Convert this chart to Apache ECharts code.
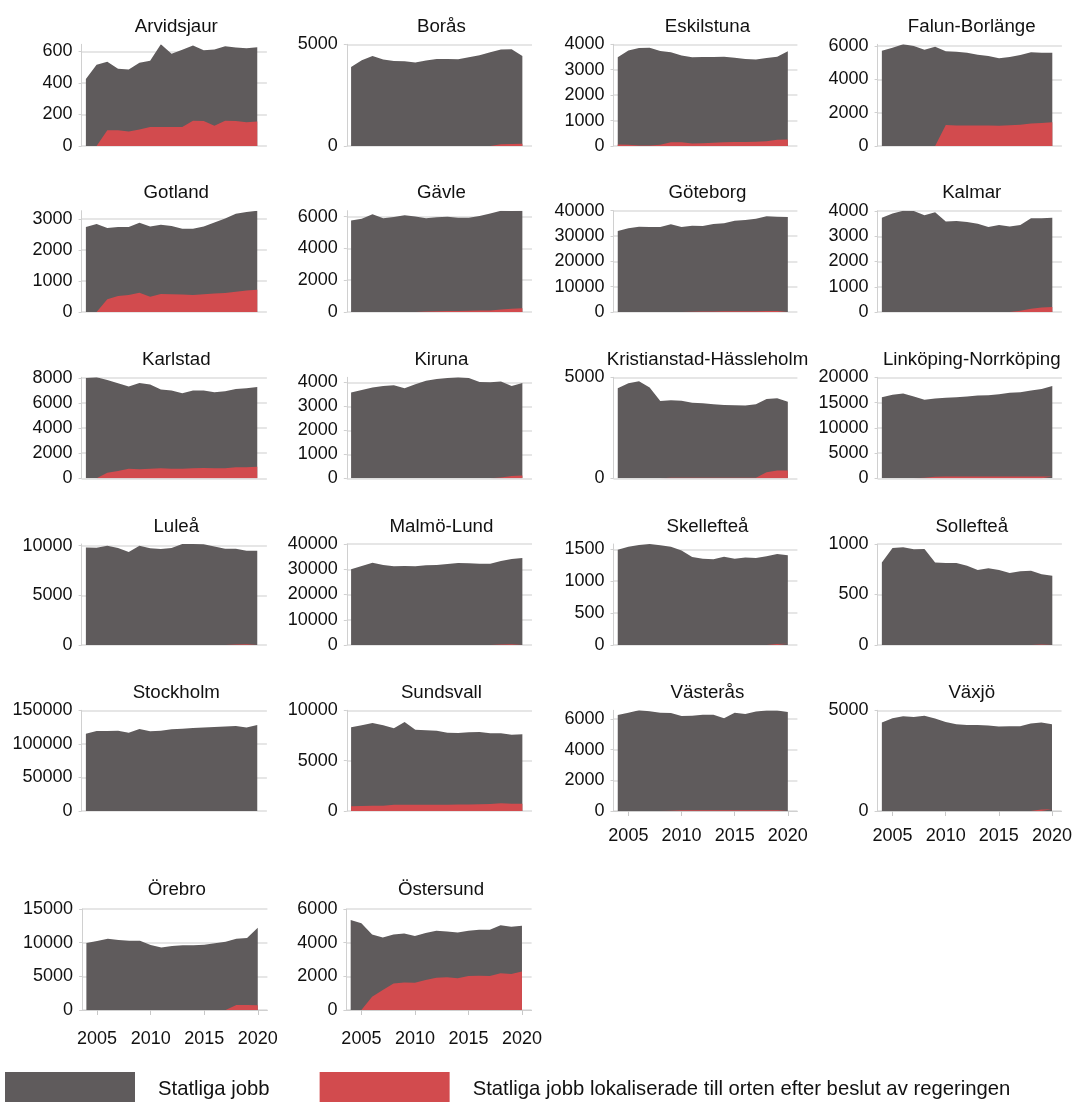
<!DOCTYPE html>
<html><head><meta charset="utf-8">
<script src="https://cdn.jsdelivr.net/npm/echarts@6/dist/echarts.min.js"></script>
<style>html,body{margin:0;padding:0;background:#fff}#c{width:1075px;height:1102px}</style>
</head><body><div id="c"></div>
<script>
const years = [2004,2005,2006,2007,2008,2009,2010,2011,2012,2013,2014,2015,2016,2017,2018,2019,2020];
const xTickLabels = [2005, 2010, 2015, 2020];
const regionNames = ['Arvidsjaur','Borås','Eskilstuna','Falun-Borlänge','Gotland','Gävle','Göteborg','Kalmar',
  'Karlstad','Kiruna','Kristianstad-Hässleholm','Linköping-Norrköping','Luleå','Malmö-Lund','Skellefteå','Sollefteå',
  'Stockholm','Sundsvall','Västerås','Växjö','Örebro','Östersund'];
const seriesNames = ['Statliga jobb', 'Statliga jobb lokaliserade till orten efter beslut av regeringen'];

const arvidsjaurTotal = [425,515,535,490,485,528,540,645,585,610,637,608,612,632,625,620,627];
const arvidsjaurLocal = [0,0,100,100,92,105,120,120,120,120,160,158,128,160,158,150,155];
const borasTotal = [3890,4220,4430,4250,4180,4170,4100,4200,4280,4280,4265,4360,4460,4610,4740,4755,4430];
const borasLocal = [0,0,0,0,0,0,0,0,0,0,0,0,0,0,80,100,110];
const eskilstunaTotal = [3490,3760,3850,3860,3740,3690,3560,3490,3500,3505,3510,3470,3420,3400,3460,3510,3730];
const eskilstunaLocal = [60,50,20,20,50,150,150,100,110,130,150,160,160,170,190,250,260];
const falunTotal = [5720,5900,6100,6000,5780,5960,5680,5660,5600,5480,5400,5260,5340,5460,5620,5600,5600];
const falunLocal = [0,0,0,0,0,0,1260,1230,1230,1230,1230,1220,1250,1270,1350,1380,1430];
const gotlandTotal = [2740,2840,2710,2740,2740,2880,2760,2815,2780,2685,2685,2760,2890,3020,3170,3230,3270];
const gotlandLocal = [0,0,410,520,550,620,490,585,575,565,550,575,595,615,650,690,715];
const gavleTotal = [5770,5870,6150,5900,5980,6100,6020,5900,5960,6000,5940,5940,6040,6210,6380,6360,6370];
const gavleLocal = [0,0,0,0,0,0,0,30,50,60,70,80,90,100,150,200,230];
const goteborgTotal = [31980,33030,33690,33560,33560,34610,33560,34080,33950,34740,35000,36060,36320,36850,37770,37640,37500];
const goteborgLocal = [0,0,0,0,0,0,0,100,150,200,250,300,300,300,350,400,400];
const kalmarTotal = [3735,3907,4013,4000,3828,3947,3590,3604,3564,3500,3366,3445,3392,3445,3710,3710,3735];
const kalmarLocal = [0,0,0,0,0,0,0,0,0,0,0,0,0,50,130,180,200];
const karlstadTotal = [8000,8050,7840,7575,7310,7600,7470,7070,6990,6775,6990,6990,6855,6935,7120,7175,7280];
const karlstadLocal = [0,0,450,590,770,720,770,800,770,770,800,830,800,800,880,880,930];
const kirunaTotal = [3580,3680,3790,3850,3875,3750,3920,4070,4140,4180,4210,4180,4015,4000,4030,3850,3970];
const kirunaLocal = [0,0,0,0,0,0,0,0,0,0,0,0,0,0,30,100,120];
const kristianstadTotal = [4455,4700,4800,4490,3830,3860,3845,3745,3710,3660,3630,3615,3600,3660,3930,3960,3795];
const kristianstadLocal = [0,0,0,0,0,30,30,30,30,30,30,30,30,30,300,380,380];
const linkopingTotal = [16065,16520,16790,16200,15540,15800,15930,16065,16200,16390,16460,16650,16920,17050,17380,17700,18300];
const linkopingLocal = [0,0,0,0,100,300,350,350,350,350,350,350,350,350,350,350,350];
const luleaTotal = [9830,9800,10000,9765,9360,10000,9730,9665,9765,10170,10170,10135,9930,9700,9700,9500,9500];
const luleaLocal = [0,0,0,0,0,0,0,0,0,0,0,0,0,0,50,80,100];
const malmoTotal = [29960,31280,32600,31680,31150,31280,31150,31550,31680,32080,32470,32340,32210,32210,33260,34060,34450];
const malmoLocal = [0,0,0,0,0,0,0,0,0,0,0,0,0,0,200,300,300];
const skellefteaTotal = [1495,1542,1568,1584,1563,1542,1484,1380,1353,1343,1385,1353,1374,1364,1390,1427,1406];
const skellefteaLocal = [0,0,0,0,0,0,0,0,0,0,0,0,0,0,0,15,20];
const sollefteaTotal = [818,960,967,947,950,818,812,812,785,742,759,742,713,729,736,700,686];
const sollefteaLocal = [0,0,0,0,0,0,0,0,0,0,0,0,0,0,0,5,10];
const stockholmTotal = [115200,119200,119200,119700,116700,122200,118700,119700,121700,122700,123700,124200,125200,125700,126700,124200,128200];
const stockholmLocal = [0,0,0,0,0,0,0,0,0,0,0,0,0,0,0,0,0];
const sundsvallTotal = [8310,8510,8740,8510,8210,8840,8080,8010,7980,7780,7750,7810,7850,7710,7710,7580,7620];
const sundsvallLocal = [460,500,530,530,630,630,620,620,620,630,640,650,680,700,760,730,730];
const vasterasTotal = [6260,6410,6565,6500,6410,6390,6195,6215,6280,6280,6040,6410,6325,6480,6545,6545,6455];
const vasterasLocal = [0,0,0,0,0,20,50,50,50,50,50,50,50,50,50,50,50];
const vaxjoTotal = [4390,4600,4700,4670,4735,4590,4420,4305,4270,4270,4240,4190,4210,4210,4340,4390,4305];
const vaxjoLocal = [0,0,0,0,0,0,0,0,0,0,0,0,0,0,0,80,90];
const orebroTotal = [9950,10250,10590,10400,10300,10300,9650,9300,9500,9600,9600,9700,9900,10150,10590,10700,12230];
const orebroLocal = [0,0,0,0,0,0,0,0,0,0,0,0,0,0,740,740,720];
const ostersundTotal = [5350,5150,4490,4300,4490,4550,4400,4570,4710,4670,4610,4710,4770,4770,5030,4950,5010];
const ostersundLocal = [0,0,790,1190,1580,1640,1620,1780,1920,1940,1880,2020,2040,2020,2180,2140,2280];

const yTickStep = [200,5000,1000,2000,1000,2000,10000,1000,2000,1000,5000,5000,5000,10000,500,500,50000,5000,2000,5000,5000,2000];
const yTickTop  = [600,5000,4000,6000,3000,6000,40000,4000,8000,4000,5000,20000,10000,40000,1500,1000,150000,10000,6000,5000,15000,6000];

const totals = [arvidsjaurTotal,borasTotal,eskilstunaTotal,falunTotal,gotlandTotal,gavleTotal,goteborgTotal,kalmarTotal,
  karlstadTotal,kirunaTotal,kristianstadTotal,linkopingTotal,luleaTotal,malmoTotal,skellefteaTotal,sollefteaTotal,
  stockholmTotal,sundsvallTotal,vasterasTotal,vaxjoTotal,orebroTotal,ostersundTotal];
const locals = [arvidsjaurLocal,borasLocal,eskilstunaLocal,falunLocal,gotlandLocal,gavleLocal,goteborgLocal,kalmarLocal,
  karlstadLocal,kirunaLocal,kristianstadLocal,linkopingLocal,luleaLocal,malmoLocal,skellefteaLocal,sollefteaLocal,
  stockholmLocal,sundsvallLocal,vasterasLocal,vaxjoLocal,orebroLocal,ostersundLocal];

// layout (pixels)
const GREY = '#5f5b5c', RED = '#d24b4e';
const FONT = '"Liberation Sans", Arial, Helvetica, sans-serif';
const rowTop  = [44.3, 210.7, 377.3, 544, 710.3, 909];
const rowZero = [146, 312, 478.3, 645, 811, 1010];
const titleOffset = [17, 17.5, 17.5, 17.5, 17.5, 19];
const xLabelMargin = [11, 11, 11, 11, 11, 15];
const colLeft = [81.6, 346.8, 613.5, 877.6];
const colWidth = [185.3, 185.2, 183.9, 184.3];
const lastRowLeft = [82.1, 346.4];
const withXLabels = [18, 19, 20, 21];

const grid = [], xAxis = [], yAxis = [], series = [], title = [];
regionNames.forEach((name, i) => {
  const row = Math.floor(i / 4), col = i % 4;
  const left = row === 5 ? lastRowLeft[col] : colLeft[col];
  const width = colWidth[col];
  const top = rowTop[row];
  const height = rowZero[row] - top;
  grid.push({left, top, width, height});
  const step = yTickStep[i];
  const dataMax = Math.max(...totals[i]);
  const yMax = Math.max(dataMax, yTickTop[i]);
  const over = yMax > yTickTop[i];
  const showX = withXLabels.includes(i);
  xAxis.push({
    type: 'value', gridIndex: i, min: 2003.6, max: 2020.9, offset: 5.5,
    axisLine: {show: showX, lineStyle: {color: '#d0d0d0', width: 1}},
    axisTick: {show: showX, length: 5, customValues: xTickLabels, lineStyle: {color: '#c8c8c8'}},
    axisLabel: {show: showX, customValues: xTickLabels, fontSize: 18, color: '#111', fontFamily: FONT,
      margin: xLabelMargin[row], formatter: v => String(v)},
    splitLine: {show: false}
  });
  yAxis.push({
    type: 'value', gridIndex: i, min: 0, max: yMax, interval: step,
    axisLine: {show: true, lineStyle: {color: '#d0d0d0', width: 1}},
    axisTick: {show: true, length: 3, lineStyle: {color: '#d0d0d0'}},
    axisLabel: {fontSize: 18, color: '#111', fontFamily: FONT, margin: 9, showMaxLabel: !over,
      formatter: v => (Math.abs(v % step) < 1e-6 ? String(v) : '')},
    splitLine: {show: true, showMaxLine: !over, lineStyle: {color: '#dedede', width: 1.5}}
  });
  title.push({
    text: name, left: left + width / 2 + 2, top: top - titleOffset[row],
    textAlign: 'center', textVerticalAlign: 'middle', padding: 0,
    textStyle: {fontSize: 18.7, fontWeight: 'normal', color: '#111', fontFamily: FONT}
  });
  series.push({
    type: 'line', name: seriesNames[0], xAxisIndex: i, yAxisIndex: i,
    data: years.map((y, k) => [y, totals[i][k]]),
    symbol: 'none', showSymbol: false, silent: true, z: 2,
    lineStyle: {width: 0, color: GREY}, itemStyle: {color: GREY},
    areaStyle: {color: GREY, opacity: 1}
  });
  series.push({
    type: 'line', name: seriesNames[1], xAxisIndex: i, yAxisIndex: i,
    data: years.map((y, k) => [y, locals[i][k]]),
    symbol: 'none', showSymbol: false, silent: true, z: 3,
    lineStyle: {width: 0, color: RED}, itemStyle: {color: RED},
    areaStyle: {color: RED, opacity: 1}
  });
});

const chart = echarts.init(document.getElementById('c'), null, {renderer: 'canvas'});
chart.setOption({
  animation: false,
  backgroundColor: '#fff',
  title, grid, xAxis, yAxis, series,
  legend: {
    data: seriesNames, left: 5, top: 1072, padding: 0, orient: 'horizontal',
    icon: 'rect', itemWidth: 130, itemHeight: 34, itemGap: 50,
    itemStyle: {borderWidth: 0},
    selectedMode: false,
    textStyle: {fontSize: 20.3, color: '#111', fontFamily: FONT, padding: [0, 0, 0, 18]}
  }
});
</script></body></html>
